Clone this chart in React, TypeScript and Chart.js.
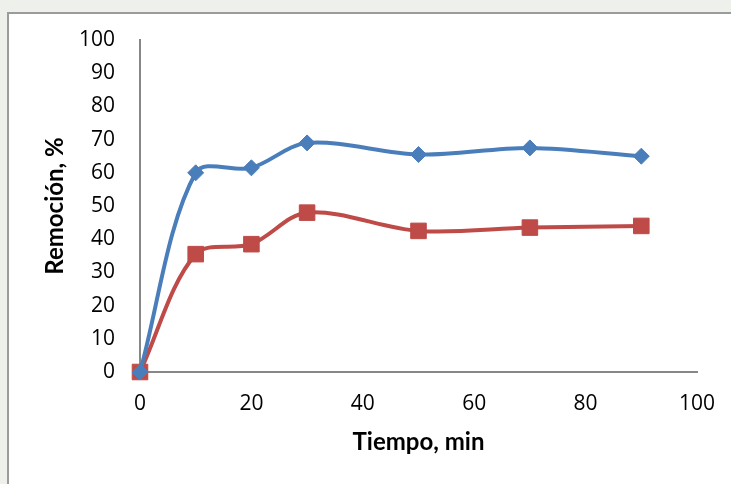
import React, { useEffect, useRef } from "react";
import { Chart, registerables } from "chart.js";

Chart.register(...registerables);

const tiempo = [0, 10, 20, 30, 50, 70, 90];
const serieAzul = [0, 60, 61.5, 69, 65.5, 67.5, 65];
const serieRoja = [0, 35.5, 38.5, 48, 42.5, 43.5, 44];
const xTicks = [0, 20, 40, 60, 80, 100];
const yTicks = [0, 10, 20, 30, 40, 50, 60, 70, 80, 90, 100];

const TICK_FONT = "'Open Sans', Lato, sans-serif";
const TITLE_FONT = "Lato, 'Open Sans', sans-serif";

export default function App() {
  const ref = useRef<HTMLCanvasElement | null>(null);

  useEffect(() => {
    document.body.style.margin = "0";
    document.body.style.background = "#eef0ec";
    let chart: Chart | null = null;
    let cancelled = false;

    const build = () => {
      if (cancelled || !ref.current) return;
      chart = new Chart(ref.current, {
        type: "line",
        data: {
          datasets: [
            {
              label: "A",
              data: tiempo.map((t, i) => ({ x: t, y: serieAzul[i] })),
              borderColor: "#4a7ebb",
              backgroundColor: "#4a7ebb",
              borderWidth: 4,
              pointStyle: "rectRot",
              pointRadius: 8,
              pointBorderWidth: 1,
              tension: 0.33,
              clip: false,
            },
            {
              label: "B",
              data: tiempo.map((t, i) => ({ x: t, y: serieRoja[i] })),
              borderColor: "#be4b48",
              backgroundColor: "#be4b48",
              borderWidth: 4,
              pointStyle: "rect",
              pointRadius: 11,
              pointBorderWidth: 1,
              tension: 0.33,
              clip: false,
            },
          ],
        },
        options: {
          animation: false,
          responsive: false,
          maintainAspectRatio: false,
          layout: { autoPadding: false, padding: { top: 26, right: 34, left: 0, bottom: 0 } },
          plugins: { legend: { display: false }, tooltip: { enabled: false } },
          scales: {
            x: {
              type: "linear",
              min: 0,
              max: 100,
              afterBuildTicks: (s: any) => {
                s.ticks = xTicks.map((v) => ({ value: v }));
              },
              afterFit: (s: any) => {
                s.height = 112;
                s.paddingLeft = 0;
                s.paddingRight = 0;
              },
              grid: { display: false, drawTicks: false },
              border: { display: true, color: "#878787", width: 2 },
              ticks: {
                padding: 19,
                color: "#000",
                font: { family: TICK_FONT, size: 21 },
                maxRotation: 0,
              },
              title: {
                display: true,
                text: "Tiempo, min",
                color: "#000",
                font: { family: TITLE_FONT, size: 24, weight: "bold" },
                padding: { top: 0, bottom: 27 },
              },
            },
            y: {
              type: "linear",
              min: 0,
              max: 100,
              afterBuildTicks: (s: any) => {
                s.ticks = yTicks.map((v) => ({ value: v }));
              },
              afterFit: (s: any) => {
                s.width = 131;
                s.paddingTop = 0;
                s.paddingBottom = 0;
              },
              grid: { display: false, drawTicks: false },
              border: { display: true, color: "#878787", width: 2 },
              ticks: {
                padding: 25,
                color: "#000",
                font: { family: TICK_FONT, size: 21 },
              },
              title: {
                display: true,
                text: "Remoción, %",
                color: "#000",
                font: { family: TITLE_FONT, size: 24, weight: "bold" },
                padding: { top: 32, bottom: 0 },
              },
            },
          },
        },
      });
    };

    const fonts: any = (document as any).fonts;
    if (fonts && fonts.load) {
      Promise.all([
        fonts.load("21px 'Open Sans'"),
        fonts.load("bold 24px Lato"),
      ])
        .catch(() => null)
        .then(build);
    } else {
      build();
    }

    return () => {
      cancelled = true;
      if (chart) chart.destroy();
    };
  }, []);

  return (
    <div
      style={{
        position: "absolute",
        left: 7,
        top: 12,
        width: 724,
        height: 472,
        borderLeft: "2px solid #9b9b9b",
        borderTop: "2px solid #9b9b9b",
        background: "#ffffff",
        boxSizing: "border-box",
      }}
    >
      <canvas ref={ref} width={722} height={470} style={{ display: "block" }} />
    </div>
  );
}
